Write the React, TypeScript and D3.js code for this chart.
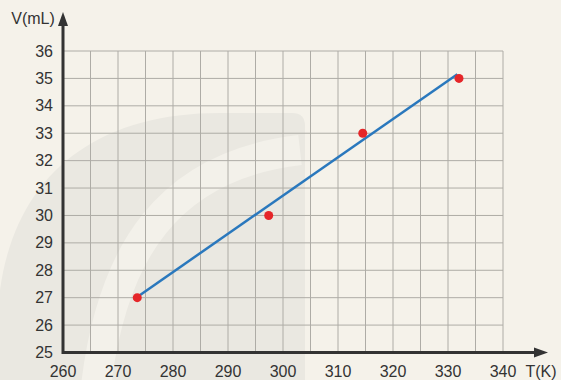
import React from "react";
import * as d3 from "d3";

const temps = [273.5, 297.4, 314.5, 332];
const volumes = [27, 30, 33, 35];
const fitT = [273.3, 331.7];
const fitV = [27, 35.15];
const xTicks = [260, 270, 280, 290, 300, 310, 320, 330, 340];
const yTicks = [25, 26, 27, 28, 29, 30, 31, 32, 33, 34, 35, 36];
const xGrid = d3.range(260, 341, 5);

const W = 561;
const H = 380;

export default function App() {
  const x = d3.scaleLinear().domain([260, 340]).range([63, 503]);
  const y = d3.scaleLinear().domain([25, 36]).range([352.5, 51]);
  const line = d3
    .line<number>()
    .x((_, i) => x(fitT[i]))
    .y((d) => y(d));
  const font = "'Liberation Sans', Arial, sans-serif";
  const axisColor = "#333333";
  const gridColor = "#aeaca6";
  return (
    <svg
      width={W}
      height={H}
      style={{ position: "absolute", left: 0, top: 0, display: "block" }}
    >
      <rect x={0} y={0} width={W} height={H} fill="#f5f2ea" />
      {/* watermark */}
      <path
        d="M0,380 L0,290 C15,180 90,113 220,113 L292,113 Q305,113 305,126 L305,380 Z"
        fill="#eae8e1"
      />
      <path
        d="M95,395 C110,250 170,165 300,150"
        fill="none"
        stroke="#f3f1ea"
        strokeWidth={30}
      />
      {/* grid */}
      {xGrid.map((t) => (
        <line
          key={"vx" + t}
          x1={x(t)}
          x2={x(t)}
          y1={y(36)}
          y2={y(25)}
          stroke={gridColor}
          strokeWidth={1}
        />
      ))}
      {yTicks.map((t) => (
        <line
          key={"hy" + t}
          x1={x(260)}
          x2={x(340)}
          y1={y(t)}
          y2={y(t)}
          stroke={gridColor}
          strokeWidth={1}
        />
      ))}
      {/* axes */}
      <line x1={63} x2={63} y1={354} y2={22} stroke={axisColor} strokeWidth={3} />
      <path d="M63,12 L58,26 L68,26 Z" fill={axisColor} />
      <line x1={62} x2={537} y1={352.5} y2={352.5} stroke={axisColor} strokeWidth={3} />
      <path d="M548,352.5 L534,347.5 L534,357.5 Z" fill={axisColor} />
      {/* tick labels */}
      {yTicks.map((t) => (
        <text
          key={"yl" + t}
          x={53}
          y={y(t)}
          dy="0.35em"
          textAnchor="end"
          fontFamily={font}
          fontSize={16}
          fill="#333"
        >
          {t}
        </text>
      ))}
      {xTicks.map((t) => (
        <text
          key={"xl" + t}
          x={x(t)}
          y={377}
          textAnchor="middle"
          fontFamily={font}
          fontSize={16}
          fill="#333"
        >
          {t}
        </text>
      ))}
      <text x={33} y={18} dy="0.35em" textAnchor="middle" fontFamily={font} fontSize={16} fill="#333">
        V(mL)
      </text>
      <text x={541} y={377} textAnchor="middle" fontFamily={font} fontSize={16} fill="#333">
        T(K)
      </text>
      {/* fit line */}
      <path d={line(fitV) || ""} fill="none" stroke="#2a78bd" strokeWidth={2.5} />
      {/* points */}
      {temps.map((t, i) => (
        <circle key={"p" + i} cx={x(t)} cy={y(volumes[i])} r={4.5} fill="#e52629" />
      ))}
    </svg>
  );
}
